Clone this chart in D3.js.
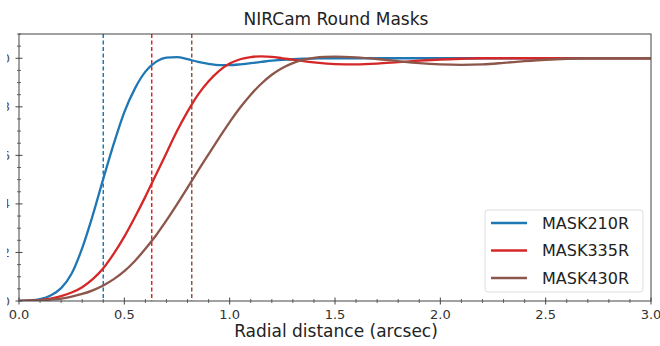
<!DOCTYPE html>
<html>
<head>
<meta charset="utf-8">
<script src="https://cdn.jsdelivr.net/npm/d3@7"></script>
<style>
  body { margin: 0; background: #fff; }
  svg { display: block; font-family: "DejaVu Sans", sans-serif; }
</style>
</head>
<body>
<div id="chart"></div>
<script>
// radial distance grid (arcsec)
const radius = [0, 0.05, 0.1, 0.15, 0.2, 0.25, 0.3, 0.35, 0.4, 0.45, 0.5, 0.55, 0.6, 0.65, 0.7, 0.75,
  0.8, 0.85, 0.9, 0.95, 1.0, 1.05, 1.1, 1.15, 1.2, 1.25, 1.3, 1.35, 1.4, 1.45, 1.5,
  1.6, 1.7, 1.8, 1.9, 2.0, 2.1, 2.2, 2.3, 2.4, 2.5, 2.6, 2.7, 2.8, 2.9, 3.0];

const mask210 = [0, 0.002, 0.008, 0.023, 0.053, 0.113, 0.218, 0.353, 0.503, 0.648, 0.778, 0.875, 0.945, 0.985, 1.003, 1.005,
  0.996, 0.985, 0.977, 0.972, 0.972, 0.975, 0.98, 0.985, 0.99, 0.993, 0.996, 0.998, 0.999, 1.0, 1.0,
  1.0, 1.0, 1.0, 1.0, 1.0, 1.0, 1.0, 1.0, 1.0, 1.0, 1.0, 1.0, 1.0, 1.0, 1.0];

const mask335 = [0, 0.001, 0.004, 0.01, 0.02, 0.035, 0.057, 0.09, 0.135, 0.195, 0.265, 0.345, 0.43, 0.52, 0.61, 0.70,
  0.78, 0.85, 0.905, 0.948, 0.978, 0.996, 1.005, 1.008, 1.006, 1.0, 0.994, 0.988, 0.983, 0.979, 0.976,
  0.975, 0.978, 0.984, 0.99, 0.995, 0.998, 1.0, 1.0, 1.0, 1.0, 1.0, 1.0, 1.0, 1.0, 1.0];

const mask430 = [0, 0.001, 0.003, 0.006, 0.01, 0.018, 0.029, 0.044, 0.064, 0.09, 0.123, 0.165, 0.215, 0.27, 0.332, 0.398,
  0.467, 0.537, 0.605, 0.672, 0.737, 0.797, 0.85, 0.895, 0.932, 0.96, 0.98, 0.994, 1.002, 1.006, 1.007,
  1.004, 0.997, 0.988, 0.98, 0.975, 0.973, 0.975, 0.981, 0.988, 0.994, 0.998, 1.0, 1.0, 1.0, 1.0];

const maskNames = ['MASK210R', 'MASK335R', 'MASK430R'];
const innerWorkingAngle = [0.40, 0.63, 0.82];
const xTicks = [0, 0.5, 1.0, 1.5, 2.0, 2.5, 3.0];
const yTicks = [0, 0.2, 0.4, 0.6, 0.8, 1.0];

const colors = ['#1f77b4', '#d62728', '#8c564b'];
const series = [mask210, mask335, mask430];

const W = 660, H = 346;
const margin = { top: 34, right: 9, bottom: 45, left: 19 };
const w = W - margin.left - margin.right;
const h = H - margin.top - margin.bottom;

const svg = d3.select('#chart').append('svg')
  .attr('width', W)
  .attr('height', H);

const x = d3.scaleLinear().domain([0, 3]).range([0, w]);
const y = d3.scaleLinear().domain([0, 1.1]).range([h, 0]);

// the y tick labels are cropped in the source picture, only a sliver shows
const defs = svg.append('defs');
defs.append('clipPath').attr('id', 'ylab-clip')
  .append('rect').attr('x', 7).attr('y', 0).attr('width', 3).attr('height', H);

const g = svg.append('g')
  .attr('transform', `translate(${margin.left},${margin.top})`);

g.append('clipPath').attr('id', 'plot-clip')
  .append('rect').attr('width', w).attr('height', h);

// minor ticks
const xMinor = d3.range(0, 3.0001, 0.1).map(v => +v.toFixed(2)).filter(v => !xTicks.some(t => Math.abs(t - v) < 1e-6));
const yMinor = d3.range(0, 1.1001, 0.05).map(v => +v.toFixed(2)).filter(v => !yTicks.some(t => Math.abs(t - v) < 1e-6));

g.selectAll('.xminor').data(xMinor).enter().append('line')
  .attr('x1', d => x(d)).attr('x2', d => x(d))
  .attr('y1', h - 2).attr('y2', h + 2)
  .attr('stroke', '#444').attr('stroke-width', 0.8);

g.selectAll('.yminor').data(yMinor).enter().append('line')
  .attr('y1', d => y(d)).attr('y2', d => y(d))
  .attr('x1', -2).attr('x2', 2)
  .attr('stroke', '#444').attr('stroke-width', 0.8);

// major ticks + labels
g.selectAll('.xmajor').data(xTicks).enter().append('line')
  .attr('x1', d => x(d)).attr('x2', d => x(d))
  .attr('y1', h - 3.5).attr('y2', h + 3.5)
  .attr('stroke', '#444').attr('stroke-width', 1);

g.selectAll('.xlab').data(xTicks).enter().append('text')
  .attr('x', d => x(d)).attr('y', h + 18)
  .attr('text-anchor', 'middle')
  .attr('font-size', 13)
  .attr('fill', '#333')
  .text(d => d3.format('.1f')(d));

g.selectAll('.ymajor').data(yTicks).enter().append('line')
  .attr('y1', d => y(d)).attr('y2', d => y(d))
  .attr('x1', -3.5).attr('x2', 3.5)
  .attr('stroke', '#444').attr('stroke-width', 1);

svg.append('g').attr('clip-path', 'url(#ylab-clip)')
  .selectAll('text').data(yTicks).enter().append('text')
  .attr('x', 10).attr('y', d => margin.top + y(d))
  .attr('dy', '0.35em')
  .attr('text-anchor', 'end')
  .attr('font-size', 13)
  .attr('fill', '#555')
  .text(d => d3.format('.1f')(d));

// dashed IWA markers
g.selectAll('.iwa').data(innerWorkingAngle).enter().append('line')
  .attr('x1', d => x(d)).attr('x2', d => x(d))
  .attr('y1', 0).attr('y2', h)
  .attr('stroke', (d, i) => colors[i])
  .attr('stroke-width', 1.5)
  .attr('stroke-dasharray', '4,2.5');

// curves
const line = d3.line()
  .x((d, i) => x(radius[i]))
  .y(d => y(d))
  .curve(d3.curveMonotoneX);

g.selectAll('.curve').data(series).enter().append('path')
  .attr('d', d => line(d))
  .attr('fill', 'none')
  .attr('stroke', (d, i) => colors[i])
  .attr('stroke-width', 2.3)
  .attr('clip-path', 'url(#plot-clip)');

// frame
g.append('rect')
  .attr('width', w).attr('height', h)
  .attr('fill', 'none')
  .attr('stroke', '#444')
  .attr('stroke-width', 1);

// title and axis label
svg.append('text')
  .attr('x', margin.left + w / 2 + 1).attr('y', 25)
  .attr('text-anchor', 'middle')
  .attr('font-size', 17)
  .attr('fill', '#222')
  .text('NIRCam Round Masks');

svg.append('text')
  .attr('x', margin.left + w / 2 + 1).attr('y', 337)
  .attr('text-anchor', 'middle')
  .attr('font-size', 17)
  .attr('fill', '#222')
  .text('Radial distance (arcsec)');

// legend
const lg = svg.append('g').attr('transform', 'translate(485,210)');
lg.append('rect')
  .attr('width', 158).attr('height', 82)
  .attr('rx', 3)
  .attr('fill', '#fff')
  .attr('stroke', '#ddd')
  .attr('stroke-width', 1);

const items = lg.selectAll('.item').data(maskNames).enter().append('g')
  .attr('transform', (d, i) => `translate(0,${13 + i * 27.5})`);

items.append('line')
  .attr('x1', 6).attr('x2', 42)
  .attr('stroke', (d, i) => colors[i])
  .attr('stroke-width', 2.6);

items.append('text')
  .attr('x', 57).attr('dy', '0.35em')
  .attr('font-size', 16)
  .attr('fill', '#222')
  .text(d => d);
</script>
</body>
</html>
